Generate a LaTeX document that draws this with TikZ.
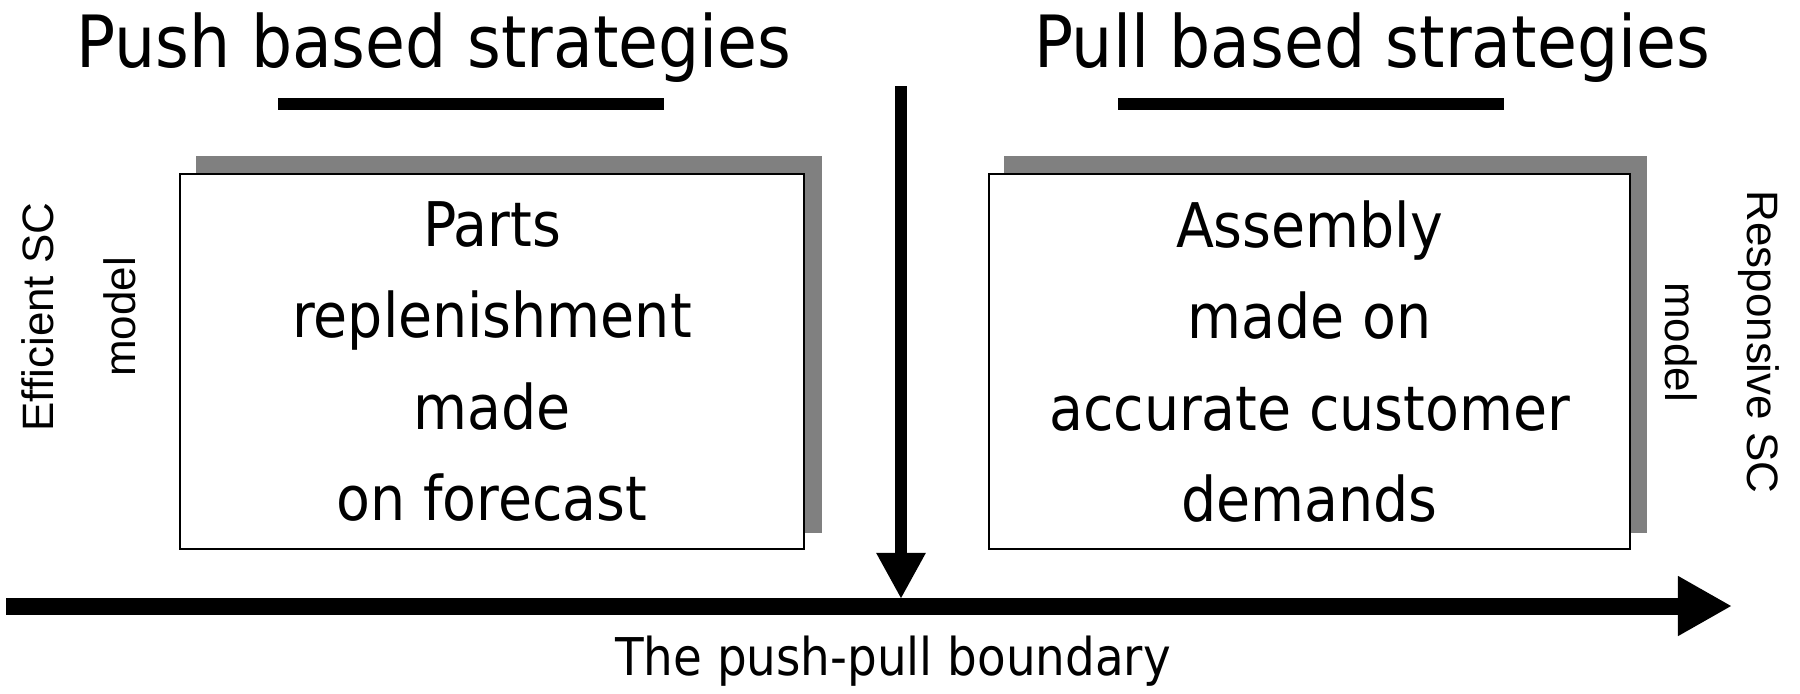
\documentclass[tikz,border=0pt]{standalone}
\usepackage{fontspec}
\setmainfont{DejaVu Sans Condensed}
\newfontfamily\labelfont{Liberation Sans}
\usepackage{tikz}
\usetikzlibrary{arrows.meta}
\usetikzlibrary{calc,backgrounds}

\begin{document}
\begin{tikzpicture}[x=0.01cm, y=-0.01cm,
    heading/.style={anchor=base, inner sep=0pt, font=\fontsize{20.5}{24}\selectfont},
    bar/.style={line width=0.12cm},
    strategy/.style={draw, line width=0.7pt, fill=white, minimum height=3.75cm,
        align=center, inner sep=0pt, font=\fontsize{17.5}{25.9}\selectfont},
    shade/.style={fill=black!50},
    sidelabel/.style={inner sep=0pt, align=center, font=\labelfont\fontsize{12.5}{23.3}\selectfont}]

            \useasboundingbox (0,0) rectangle (1800,693);

            % the two headings with their bars
            \draw (434,67) node[heading]                    (pushtitle) {Push based strategies};
            \draw (1372,67) node[heading]                   (pulltitle) {Pull based strategies};
            \draw[bar] (278,104) -- (664,104);
            \draw[bar] (1118,104) -- (1504,104);

            % boxes, shadow goes behind
            \draw (492,361.5) node[strategy, minimum width=6.24cm]   (parts) {Parts\\replenishment\\made\\on forecast};
            \draw (1309.5,361.5) node[strategy, minimum width=6.41cm] (assembly) {Assembly\\made on\\accurate customer\\demands};
            \begin{pgfonlayer}{background}
            \fill[shade] ($(parts.south west)+(17,-17)$) rectangle ($(parts.north east)+(17,-17)$);
            \fill[shade] ($(assembly.south west)+(16,-17)$) rectangle ($(assembly.north east)+(16,-17)$);
            \end{pgfonlayer}

            % side labels
            \draw (79,317) node[sidelabel, rotate=90]       (efficient) {Efficient SC\\model};
            \draw (1722,342) node[sidelabel, rotate=-90]    (responsive) {Responsive SC\\model};

            % boundary and flow arrows
            \coordinate (splittop) at (901,86);
            \coordinate (splittip) at (901,599);
            \coordinate (flowstart) at (6,606);
            \coordinate (flowend) at (1732,606);
            \draw[line width=0.12cm, -{Triangle[length=0.46cm, width=0.46cm]}] (splittop) -- (splittip);
            \draw[line width=0.17cm, -{Triangle[length=0.54cm, width=0.56cm]}] (flowstart) -- (flowend);
            \draw (893,675) node[anchor=base, inner sep=0pt, font=\fontsize{14.8}{18}\selectfont] (boundary) {The push-pull boundary};

\end{tikzpicture}
\end{document}
